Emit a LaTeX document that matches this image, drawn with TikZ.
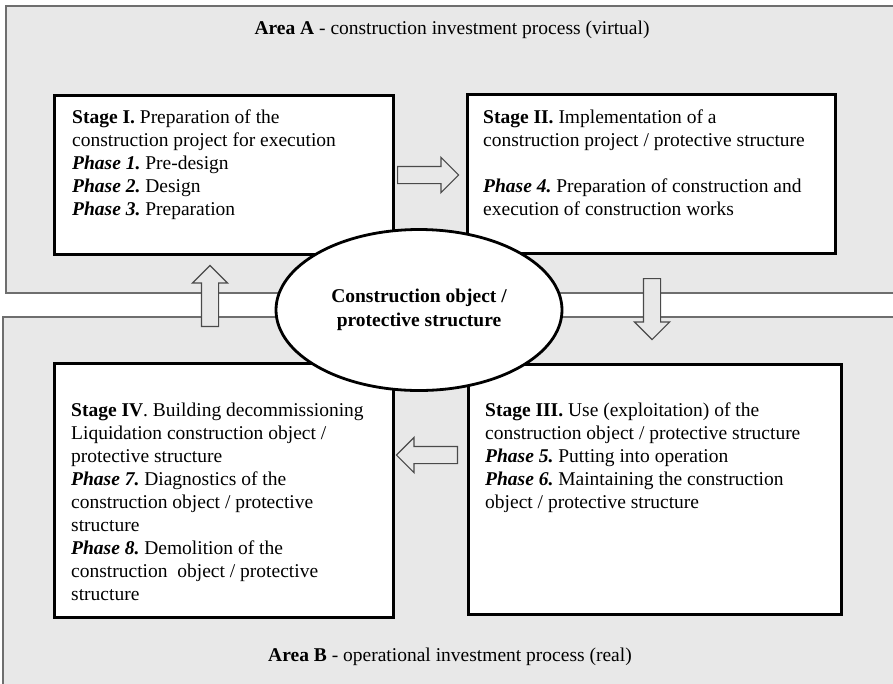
\documentclass[tikz,border=0pt]{standalone}
\usepackage{fontspec}
\setmainfont{Liberation Serif}
\usetikzlibrary{shapes.geometric,shapes.arrows}
\definecolor{areagray}{HTML}{E8E8E8}
\definecolor{areaedge}{HTML}{6E6E6E}
\definecolor{arrowedge}{HTML}{4A4A4A}
\frenchspacing

\begin{document}
\begin{tikzpicture}[x=1pt,y=-1pt,
  area/.style={fill=areagray, draw=areaedge, line width=1.2pt},
  stagebox/.style={draw=black, fill=white, line width=3pt, anchor=north west, inner sep=0pt},
  boxtext/.style={anchor=north west, inner sep=0pt, align=left,
    font=\fontsize{19.5}{23}\selectfont},
  arealabel/.style={inner sep=0pt, font=\fontsize{19.5}{23}\selectfont},
  blockarrow/.style={single arrow, draw=arrowedge, fill=areagray, line width=1.2pt,
    inner xsep=0pt, inner ysep=8pt, minimum height=61pt,
    single arrow head extend=9pt, anchor=tail},
  centre/.style={ellipse, draw=black, fill=white, line width=2.8pt,
    minimum width=286pt, minimum height=161pt, inner sep=0pt, align=center,
    font=\fontsize{19.5}{24}\selectfont\bfseries}
]
\useasboundingbox (0,0) rectangle (893,683);
\clip (0,0) rectangle (893,683);
\fill[white] (0,0) rectangle (893,683);

% the two process areas
\draw[area] (6,6) rectangle (900,293);
\draw[area] (3,317) rectangle (900,700);
\node[arealabel] (areaA) at (452,30) {\textbf{Area A} - construction investment process (virtual)};
\node[arealabel] (areaB) at (450,657) {\textbf{Area B} - operational investment process (real)};

% stage boxes
\node[stagebox, minimum width=339pt, minimum height=159pt] (s1) at (53,94) {};
\node[stagebox, minimum width=368pt, minimum height=159pt] (s2) at (466,93) {};
\node[stagebox, minimum width=373pt, minimum height=250pt] (s3) at (467,363) {};
\node[stagebox, minimum width=339pt, minimum height=254pt] (s4) at (53,362) {};

\node[boxtext] (t1) at (72,107) {\strut\textbf{Stage I.} Preparation of the\\
  construction project for execution\\
  \textbf{\textit{Phase 1.}} Pre-design\\
  \textbf{\textit{Phase 2.}} Design\\
  \textbf{\textit{Phase 3.}} Preparation};
\node[boxtext] (t2) at (483,107) {\strut\textbf{Stage II.} Implementation of a\\
  construction project / protective structure\\[23pt]
  \textbf{\textit{Phase 4.}} Preparation of construction and\\
  execution of construction works};
\node[boxtext] (t3) at (485,400) {\strut\textbf{Stage III.} Use (exploitation) of the\\
  construction object / protective structure\\
  \textbf{\textit{Phase 5.}} Putting into operation\\
  \textbf{\textit{Phase 6.}} Maintaining the construction\\
  object / protective structure};
\node[boxtext] (t4) at (71,400) {\strut\textbf{Stage IV}. Building decommissioning\\
  Liquidation construction object /\\
  protective structure\\
  \textbf{\textit{Phase 7.}} Diagnostics of the\\
  construction object / protective\\
  structure\\
  \textbf{\textit{Phase 8.}} Demolition of the\\
  construction\ \ object / protective\\
  structure};

% block arrows between the stages
\node[blockarrow, rotate=0] (a12) at (397,175) {};
\node[blockarrow, rotate=270] (a23) at (652,278) {};
\node[blockarrow, rotate=180] (a34) at (458,455) {};
\node[blockarrow, rotate=90] (a41) at (210,327) {};

% the object in the middle
\node[centre] (obj) at (419,310) {Construction object /\\ protective structure};
\end{tikzpicture}
\end{document}
